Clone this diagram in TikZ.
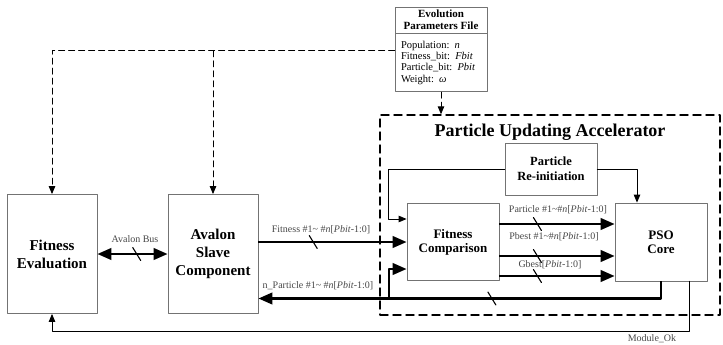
\documentclass[tikz,border=0pt]{standalone}
\usepackage{fontspec}
\setmainfont{Liberation Serif}
\usetikzlibrary{arrows.meta,calc,positioning}
\tikzset{
  every picture/.append style={line cap=round,line join=round},
  pua block/.style={draw=black!55,line width=0.8pt,fill=white,align=center,inner sep=1pt,font=\bfseries\fontsize{13}{14}\selectfont},
  pua big/.style={pua block,minimum width=90pt,minimum height=119pt,font=\bfseries\fontsize{15}{18}\selectfont},
  pua region/.style={draw,line width=1.4pt,dash pattern=on 8pt off 5pt},
  pua title/.style={font=\bfseries\fontsize{18}{20}\selectfont},
  pua wire/.style={line width=0.9pt,-{Triangle[length=8pt,width=6.5pt]}},
  pua dashed/.style={line width=0.9pt,dash pattern=on 6pt off 4pt,-{Triangle[length=8pt,width=6.5pt]}},
  pua bus/.style={line width=2.6pt,line cap=butt,-{Triangle[length=14pt,width=11.5pt]}},
  pua bus both/.style={pua bus,{Triangle[length=14pt,width=11.5pt]}-{Triangle[length=14pt,width=11.5pt]}},
  pua label/.style={font=\fontsize{10}{11}\selectfont,text=black!72,inner sep=1pt},
  pua slash/.pic={\draw[line width=1.1pt,line cap=round,-,black,solid] (-4,-6.5) -- (4,6.5);}
}

\begin{document}
\begin{tikzpicture}[x=1pt,y=-1pt]
  \useasboundingbox (0,0) rectangle (723,345);
  % accelerator region
  \node[pua region,minimum width=340pt,minimum height=200pt] (pua) at (550,215) {};
  \node[pua title] (puatitle) at (550,132) {Particle Updating Accelerator};
  % parameter file
  \node[pua block,minimum width=92pt,minimum height=26pt,font=\bfseries\fontsize{11}{12}\selectfont] (evohead) at (441,20) {Evolution\\Parameters File};
  \node[pua block,anchor=north,font=\fontsize{10.5}{11.3}\selectfont,text width=80pt,align=left,inner xsep=6pt,minimum height=58pt] (evobody) at (evohead.south)
    {Population: \textit{n}\\Fitness\_bit: \textit{Fbit}\\Particle\_bit: \textit{Pbit}\\Weight: \textit{ω}};
  % blocks
  \node[pua big] (fiteval) at (52,254) {Fitness\\Evaluation};
  \node[pua big] (avalon) at (213,254) {Avalon\\Slave\\Component};
  \node[pua block,minimum width=92pt,minimum height=52pt,font=\bfseries\fontsize{12.5}{15}\selectfont] (reinit) at (551,169) {Particle\\Re-initiation};
  \node[pua block,minimum width=92pt,minimum height=77pt] (fitcomp) at (453,242) {Fitness\\Comparison};
  \node[pua block,minimum width=92pt,minimum height=78pt] (pso) at (661,242) {PSO\\Core};

  % parameters out
  \coordinate (evotap) at ([yshift=12pt]evobody.west);
  \draw[pua dashed] (evotap) -| (fiteval.north);
  \draw[pua dashed] (evotap -| avalon.north) -- (avalon.north);
  \draw[pua dashed] (evobody.south) -- (evobody.south |- pua.north);

  % avalon bus
  \draw[pua bus both] (fiteval.east) -- (avalon.west) pic[pos=0.56]{pua slash};
  \node[pua label] (lblbus) at (135,239) {Avalon Bus};

  % fitness in
  \draw[pua bus] (avalon.east |- fitcomp.west) -- (fitcomp.west) pic[pos=0.37]{pua slash};
  \node[pua label] (lblfit) at (321,230) {Fitness \#1\textasciitilde{} \#\textit{n}[\textit{Pbit}-1:0]};

  % re-initiation
  \draw[pua wire] (reinit.west) -| ([xshift=-18pt,yshift=23pt]fitcomp.west) -- ([yshift=23pt]fitcomp.west);
  \draw[pua wire] (reinit.east) -| ([xshift=-24pt]pso.north);

  % comparison to core
  \foreach \dy in {18,-14,-34}
    \draw[pua bus] ([yshift=\dy pt]fitcomp.east) -- ([yshift=\dy pt]pso.west) pic[pos=0.33]{pua slash};
  \node[pua label] (lblpart) at (558,210) {Particle \#1\textasciitilde\#\textit{n}[\textit{Pbit}-1:0]};
  \node[pua label] (lblpbest) at (554,237) {Pbest \#1\textasciitilde\#\textit{n}[\textit{Pbit}-1:0]};
  \node[pua label] (lblgbest) at (550,265) {Gbest[\textit{Pbit}-1:0]};

  % particles back
  \coordinate (lowbus) at (389,298.5);
  \draw[pua bus] (pso.south) |- (lowbus -| avalon.east) pic[pos=0.71]{pua slash};
  \draw[pua bus] (lowbus) |- ([yshift=-27pt]fitcomp.west);
  \node[pua label] (lblnpart) at (318,286) {n\_Particle \#1\textasciitilde{} \#\textit{n}[\textit{Pbit}-1:0]};

  % done flag
  \draw[pua wire] ([xshift=28pt]pso.south) -- ++(0,50) -| (fiteval.south);
  \node[pua label] (lblok) at (652,339) {Module\_Ok};
\end{tikzpicture}
\end{document}
